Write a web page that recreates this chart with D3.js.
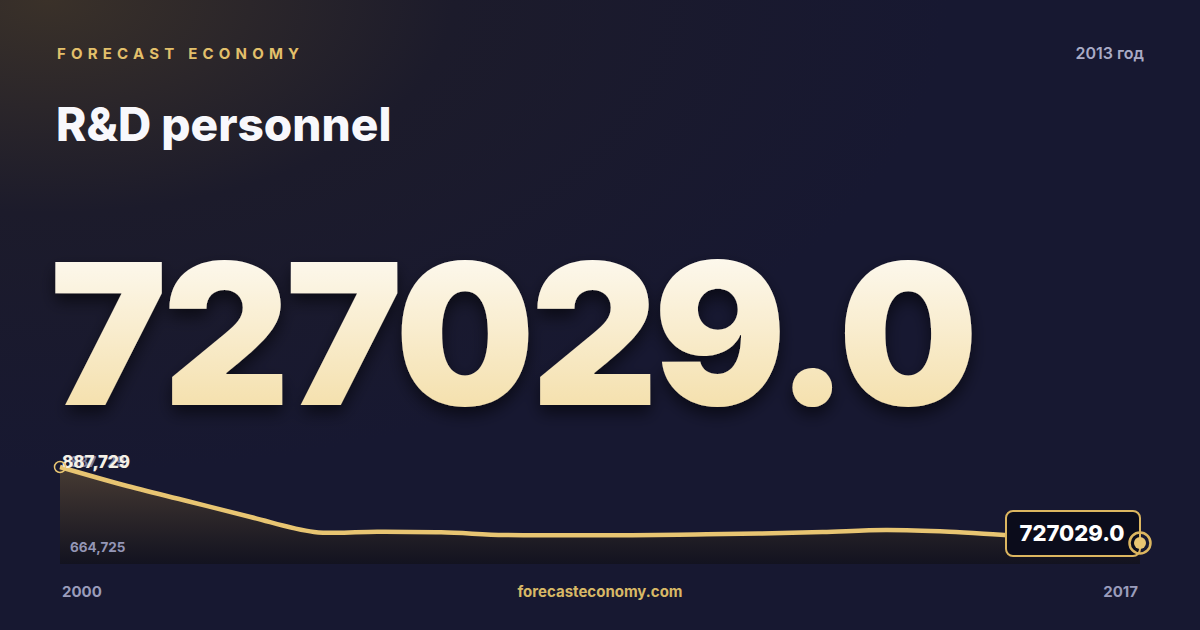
<!DOCTYPE html>
<html>
<head>
<meta charset="utf-8">
<script src="https://cdn.jsdelivr.net/npm/d3@7"></script>
<style>
  html, body { margin: 0; padding: 0; background: #171830; }
  svg { display: block; font-family: Inter, 'Noto Sans', sans-serif; }
</style>
</head>
<body>
<div id="chart"></div>
<script>
// data
var years = [2000, 2001, 2002, 2003, 2004, 2005, 2006, 2007, 2008,
  2009, 2010, 2011, 2012, 2013, 2014, 2015, 2016, 2017];
var values = [887729, 846350, 809570, 772790, 738500, 739000, 737600, 731400, 730700,
  730700, 732500, 734800, 738300, 742900, 739000, 730250, 724500, 713000];
var yDomain = [664725, 887729];
var maxLabel = '887,729';
var minLabel = '664,725';
var bigValue = '727029.0';
var brand = 'FORECAST ECONOMY';
var title = 'R&D personnel';
var yearLabel = '2013 год';
var site = 'forecasteconomy.com';

var W = 1200, H = 630;
var gold = '#e8c572';

var svg = d3.select('#chart')
  .append('svg')
  .attr('width', W)
  .attr('height', H);

var defs = svg.append('defs');

// background glow
var bg = defs.append('radialGradient')
  .attr('id', 'bg-glow')
  .attr('cx', 0.04).attr('cy', 0)
  .attr('r', 0.75);
bg.append('stop').attr('offset', '0%').attr('stop-color', '#3a3129');
bg.append('stop').attr('offset', '45%').attr('stop-color', '#1c1b2b');
bg.append('stop').attr('offset', '100%').attr('stop-color', '#171831');

// big number gradient
var ng = defs.append('linearGradient')
  .attr('id', 'num-grad')
  .attr('x1', 0).attr('y1', 0).attr('x2', 0).attr('y2', 1);
ng.append('stop').attr('offset', '0%').attr('stop-color', '#ffffff');
ng.append('stop').attr('offset', '100%').attr('stop-color', '#f2d99a');

// area gradient
var ag = defs.append('linearGradient')
  .attr('id', 'area-grad')
  .attr('x1', 0).attr('y1', 0).attr('x2', 0).attr('y2', 1);
ag.append('stop').attr('offset', '0%').attr('stop-color', '#4a3d33').attr('stop-opacity', 0.95);
ag.append('stop').attr('offset', '100%').attr('stop-color', '#12121e').attr('stop-opacity', 0.9);

// shadow
var filter = defs.append('filter')
  .attr('id', 'num-shadow')
  .attr('x', '-10%').attr('y', '-10%')
  .attr('width', '120%').attr('height', '130%');
filter.append('feGaussianBlur')
  .attr('in', 'SourceAlpha')
  .attr('stdDeviation', 8)
  .attr('result', 'blur');
filter.append('feOffset')
  .attr('in', 'blur')
  .attr('dx', 0).attr('dy', 8)
  .attr('result', 'offsetBlur');
filter.append('feComponentTransfer')
  .attr('in', 'offsetBlur')
  .attr('result', 'shadow')
  .append('feFuncA').attr('type', 'linear').attr('slope', 0.55);
var feMerge = filter.append('feMerge');
feMerge.append('feMergeNode').attr('in', 'shadow');
feMerge.append('feMergeNode').attr('in', 'SourceGraphic');

svg.append('rect')
  .attr('width', W).attr('height', H)
  .attr('fill', 'url(#bg-glow)');

// header
svg.append('text')
  .attr('x', 57).attr('y', 59)
  .attr('fill', '#e3c06b')
  .attr('font-size', 15)
  .attr('font-weight', 700)
  .attr('letter-spacing', 5.2)
  .text(brand);

svg.append('text')
  .attr('x', 1144).attr('y', 59)
  .attr('text-anchor', 'end')
  .attr('fill', '#a9abc6')
  .attr('font-size', 16)
  .attr('font-weight', 600)
  .text(yearLabel);

svg.append('text')
  .attr('x', 56).attr('y', 141)
  .attr('fill', '#f8f8fc')
  .attr('font-size', 46)
  .attr('font-weight', 800)
  .attr('letter-spacing', 0)
  .text(title);

// big value
svg.append('text')
  .attr('x', 50).attr('y', 405)
  .attr('fill', 'url(#num-grad)')
  .attr('font-size', 197)
  .attr('font-weight', 900)
  .attr('letter-spacing', -4.5)
  .style('filter', 'url(#num-shadow)')
  .text(bigValue);

// scales
var x = d3.scaleLinear().domain([years[0], years[years.length - 1]]).range([60, 1140]);
var y = d3.scaleLinear().domain(yDomain).range([564, 467]);
var pts = years.map(function (d, i) { return [d, values[i]]; });

var area = d3.area()
  .x(function (d) { return x(d[0]); })
  .y0(564)
  .y1(function (d) { return y(d[1]); })
  .curve(d3.curveCatmullRom.alpha(0.5));
var line = d3.line()
  .x(function (d) { return x(d[0]); })
  .y(function (d) { return y(d[1]); })
  .curve(d3.curveCatmullRom.alpha(0.5));

svg.append('path')
  .datum(pts)
  .attr('d', area)
  .attr('fill', 'url(#area-grad)');

svg.append('path')
  .datum(pts)
  .attr('d', line)
  .attr('fill', 'none')
  .attr('stroke', gold)
  .attr('stroke-width', 4.5)
  .attr('stroke-linejoin', 'round');

// axis labels
svg.append('text')
  .attr('x', 70).attr('y', 552)
  .attr('fill', '#9496b6')
  .attr('font-size', 13.5)
  .attr('font-weight', 700)
  .text(minLabel);

svg.append('text')
  .attr('x', 70).attr('y', 467)
  .attr('fill', '#8f93b6')
  .attr('fill-opacity', 0.8)
  .attr('font-size', 14)
  .attr('font-weight', 700)
  .text(maxLabel);

svg.append('text')
  .attr('x', 62).attr('y', 468)
  .attr('fill', '#f4f0e6')
  .attr('font-size', 17)
  .attr('font-weight', 800)
  .text(maxLabel);

// start marker
svg.append('circle')
  .attr('cx', x(years[0])).attr('cy', y(values[0]))
  .attr('r', 5.5)
  .attr('fill', 'none')
  .attr('stroke', gold)
  .attr('stroke-width', 1.5);

// end label box
var ex = x(years[years.length - 1]);
var ey = y(values[values.length - 1]);
svg.append('rect')
  .attr('x', 1006).attr('y', 511)
  .attr('width', 134).attr('height', 45)
  .attr('rx', 7)
  .attr('fill', '#0b0c1b')
  .attr('stroke', '#dcb660')
  .attr('stroke-width', 2);
svg.append('text')
  .attr('x', 1072).attr('y', 541)
  .attr('text-anchor', 'middle')
  .attr('fill', '#ffffff')
  .attr('font-size', 22)
  .attr('font-weight', 800)
  .text(bigValue);

// end marker
svg.append('circle')
  .attr('cx', ex).attr('cy', ey)
  .attr('r', 10.5)
  .attr('fill', 'none')
  .attr('stroke', '#dcb660')
  .attr('stroke-width', 2.5);
svg.append('circle')
  .attr('cx', ex).attr('cy', ey)
  .attr('r', 6)
  .attr('fill', gold);

// footer
svg.append('text')
  .attr('x', 62).attr('y', 597)
  .attr('fill', '#9a9cbb')
  .attr('font-size', 15)
  .attr('font-weight', 700)
  .text(years[0]);
svg.append('text')
  .attr('x', 1138).attr('y', 597)
  .attr('text-anchor', 'end')
  .attr('fill', '#9a9cbb')
  .attr('font-size', 15)
  .attr('font-weight', 700)
  .text(years[years.length - 1]);
svg.append('text')
  .attr('x', 600).attr('y', 597)
  .attr('text-anchor', 'middle')
  .attr('fill', '#d8b866')
  .attr('font-size', 15)
  .attr('font-weight', 700)
  .text(site);
</script>
</body>
</html>
